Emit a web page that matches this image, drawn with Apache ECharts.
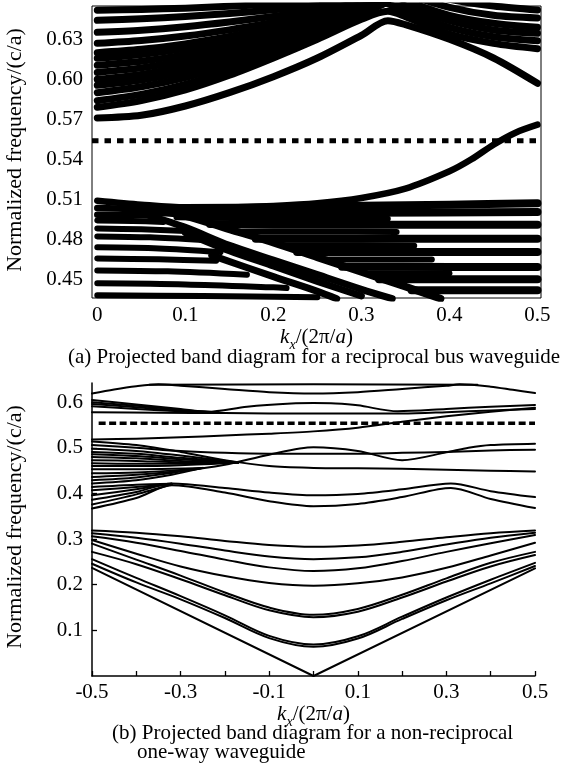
<!DOCTYPE html>
<html><head><meta charset="utf-8">
<script src="https://cdn.jsdelivr.net/npm/echarts@6.0.0/dist/echarts.min.js"></script>
<style>html,body{margin:0;padding:0;background:#fff}#c{width:569px;height:772px}</style>
</head><body><div id="c"></div>
<script>
// ---------- (a) reciprocal bus waveguide ----------
const topXTicks = [0, 0.1, 0.2, 0.3, 0.4, 0.5];
const topYTicks = [0.45, 0.48, 0.51, 0.54, 0.57, 0.60, 0.63];
const topGapLine = 0.554;

const kTopU = [0, 0.05, 0.1, 0.15, 0.2, 0.25, 0.3, 0.33, 0.35, 0.4, 0.45, 0.5];
const topU0 = [0.571, 0.573, 0.580, 0.590, 0.602, 0.616, 0.633, 0.644, 0.641, 0.630, 0.616, 0.597];
const topB1 = [0.579, 0.584, 0.592, 0.603, 0.616, 0.630, 0.645, 0.651, 0.647, 0.634, 0.627, 0.623];

const kTopFan = [0, 0.05, 0.1, 0.15, 0.2, 0.25, 0.3, 0.33];
const topFan = [
  [0.584, 0.5887, 0.5962, 0.6065, 0.6188, 0.6319, 0.6488, 0.658],
  [0.590, 0.5944, 0.6013, 0.6108, 0.6221, 0.6343, 0.6499, 0.658],
  [0.5955, 0.5995, 0.6059, 0.6147, 0.6252, 0.6364, 0.6508, 0.659],
  [0.600, 0.6037, 0.6097, 0.6179, 0.6276, 0.6381, 0.6515, 0.659],
  [0.6052, 0.6086, 0.6141, 0.6216, 0.6305, 0.6401, 0.6524, 0.660],
  [0.6105, 0.6135, 0.6185, 0.6253, 0.6334, 0.6421, 0.6533, 0.660],
  [0.6158, 0.6186, 0.6230, 0.6291, 0.6364, 0.6442, 0.6542, 0.660],
  [0.620, 0.6225, 0.6266, 0.6321, 0.6387, 0.6458, 0.6549, 0.660],
  [0.627, 0.6291, 0.6325, 0.6371, 0.6426, 0.6485, 0.6561, 0.661],
  [0.6353, 0.6369, 0.6395, 0.6430, 0.6472, 0.6517, 0.6575, 0.661],
  [0.6443, 0.6454, 0.6471, 0.6494, 0.6522, 0.6552, 0.6590, 0.662],
  [0.6518, 0.6524, 0.6534, 0.6548, 0.6564, 0.6581, 0.6603, 0.662]
];
const kTopR = [0.3, 0.35, 0.4, 0.45, 0.5];
const topRight = [
  [0.666, 0.651, 0.639, 0.632, 0.629],
  [0.669, 0.655, 0.644, 0.637, 0.6345],
  [0.672, 0.659, 0.648, 0.642, 0.639],
  [0.676, 0.664, 0.654, 0.648, 0.646],
  [0.680, 0.669, 0.660, 0.655, 0.652]
];
const kTopL0 = [0, 0.05, 0.1, 0.15, 0.2, 0.25, 0.3, 0.35, 0.4, 0.425, 0.45, 0.475, 0.5];
const topL0 = [0.509, 0.506, 0.504, 0.504, 0.505, 0.507, 0.511, 0.518, 0.531, 0.540, 0.551, 0.560, 0.566];

const topThick = [
  [[0, 0.5035], [0.04, 0.5025], [0.07, 0.5]],
  [[0, 0.4985], [0.04, 0.4985], [0.07, 0.4975]]
];
const topDiagA = [[0.04, 0.5045], [0.1, 0.4975], [0.15, 0.4875], [0.2, 0.4775], [0.25, 0.4665], [0.3, 0.4555], [0.35, 0.4445], [0.39, 0.4355]];
const topDiagB = [
  [[0.06, 0.4975], [0.1, 0.489], [0.15, 0.4755], [0.2, 0.4645], [0.25, 0.4535], [0.3, 0.4425], [0.335, 0.4355]],
  [[0.1, 0.485], [0.15, 0.4715], [0.2, 0.4600], [0.25, 0.4485], [0.3, 0.4375]],
  [[0.13, 0.4680], [0.2, 0.4520], [0.25, 0.4410], [0.272, 0.4355]]
];
const topLeftStripes = [
  [[0, 0.4942], [0.04, 0.4938], [0.075, 0.493]],
  [[0, 0.4882], [0.05, 0.4875], [0.1, 0.4862]],
  [[0, 0.4822], [0.06, 0.4815], [0.12, 0.4795]],
  [[0, 0.474], [0.07, 0.4732], [0.14, 0.4705]],
  [[0, 0.4657], [0.07, 0.465], [0.135, 0.4640]],
  [[0, 0.4567], [0.08, 0.456], [0.17, 0.4535]],
  [[0, 0.447], [0.1, 0.4462], [0.2, 0.4440], [0.215, 0.4435]],
  [[0, 0.438], [0.12, 0.4375], [0.25, 0.4365]]
];
const topRightStripes = [
  [[0.1, 0.5035], [0.2, 0.504], [0.3, 0.5052], [0.4, 0.506], [0.5, 0.507]],
  [[0.07, 0.5002], [0.15, 0.4998], [0.3, 0.5], [0.5, 0.5005]],
  [[0.128, 0.4915], [0.2, 0.491], [0.35, 0.491], [0.5, 0.491]],
  [[0.18, 0.4805], [0.3, 0.4805], [0.5, 0.4805]],
  [[0.227, 0.4705], [0.35, 0.4705], [0.5, 0.4705]],
  [[0.278, 0.4595], [0.4, 0.4593], [0.5, 0.4593]],
  [[0.32, 0.45], [0.4, 0.45], [0.5, 0.45]],
  [[0.357, 0.4418], [0.45, 0.4418], [0.5, 0.4418]]
];
const topMidStripes = [
  [[0.09, 0.4965], [0.2, 0.4958], [0.33, 0.4955]],
  [[0.16, 0.4857], [0.26, 0.4857], [0.34, 0.4855]],
  [[0.21, 0.4755], [0.3, 0.4755], [0.36, 0.4752]],
  [[0.26, 0.4648], [0.34, 0.4648], [0.38, 0.4648]],
  [[0.31, 0.4545], [0.4, 0.4545]]
];

// ---------- (b) non-reciprocal one-way waveguide ----------
const botXTicks = [-0.5, -0.4, -0.3, -0.2, -0.1, 0, 0.1, 0.2, 0.3, 0.4, 0.5];
const botXLabels = [-0.5, -0.3, -0.1, 0.1, 0.3, 0.5];
const botYTicks = [0.1, 0.2, 0.3, 0.4, 0.5, 0.6];
const botGapLine = 0.554;

const kBot = [-0.5, -0.4, -0.3, -0.2, -0.1, 0, 0.1, 0.2, 0.3, 0.4, 0.5];
const botLower = [
  [0.319, 0.314, 0.306, 0.296, 0.287, 0.283, 0.286, 0.294, 0.304, 0.313, 0.319],
  [0.313, 0.303, 0.290, 0.275, 0.262, 0.256, 0.260, 0.272, 0.288, 0.303, 0.314],
  [0.306, 0.292, 0.274, 0.255, 0.238, 0.230, 0.236, 0.252, 0.272, 0.291, 0.309],
  [0.298, 0.268, 0.240, 0.219, 0.204, 0.198, 0.203, 0.216, 0.237, 0.264, 0.292],
  [0.290, 0.255, 0.220, 0.183, 0.150, 0.134, 0.147, 0.178, 0.214, 0.248, 0.272],
  [0.272, 0.245, 0.212, 0.177, 0.144, 0.129, 0.141, 0.172, 0.207, 0.240, 0.265],
  [0.256, 0.215, 0.175, 0.133, 0.088, 0.069, 0.087, 0.130, 0.172, 0.211, 0.248],
  [0.246, 0.205, 0.168, 0.127, 0.083, 0.064, 0.082, 0.125, 0.166, 0.203, 0.241]
];
const botV = [[-0.5, 0.237], [0, 0.0], [0.5, 0.236]];

const botUpper = [
  [[-0.37, 0.638], [0, 0.639], [0.37, 0.638]],
  [[-0.5, 0.619], [-0.45, 0.628], [-0.4, 0.635], [-0.35, 0.639], [-0.3, 0.636], [-0.2, 0.629], [-0.1, 0.622], [0, 0.619], [0.1, 0.622], [0.2, 0.629], [0.3, 0.636], [0.33, 0.639], [0.4, 0.634], [0.45, 0.627], [0.5, 0.620]],
  [[-0.5, 0.605], [-0.4, 0.595], [-0.3, 0.585], [-0.24, 0.579], [-0.15, 0.590], [-0.05, 0.597], [0, 0.598], [0.05, 0.597], [0.1, 0.593], [0.19, 0.580], [0.3, 0.585], [0.4, 0.590], [0.5, 0.594]],
  [[-0.5, 0.600], [-0.4, 0.592], [-0.3, 0.583], [-0.22, 0.578]],
  [[-0.5, 0.596], [-0.4, 0.589], [-0.3, 0.581], [-0.22, 0.578]],
  [[-0.5, 0.591], [-0.4, 0.585], [-0.3, 0.580], [-0.22, 0.577]],
  [[-0.5, 0.578], [-0.35, 0.577], [-0.2, 0.576], [0, 0.575], [0.2, 0.575], [0.3, 0.578], [0.4, 0.582], [0.5, 0.585]],
  [[-0.5, 0.518], [-0.4, 0.520], [-0.3, 0.523], [-0.2, 0.527], [-0.1, 0.531], [0, 0.536], [0.1, 0.544], [0.2, 0.557], [0.3, 0.569], [0.4, 0.579], [0.5, 0.588]]
];
const botMid = [
  [[-0.5, 0.436], [-0.4, 0.441], [-0.3, 0.449], [-0.2, 0.463], [-0.1, 0.485], [0, 0.501], [0.1, 0.493], [0.2, 0.473], [0.3, 0.490], [0.35, 0.500], [0.4, 0.506], [0.5, 0.509]],
  [[-0.5, 0.506], [-0.4, 0.500], [-0.3, 0.493], [-0.2, 0.489], [-0.1, 0.487], [0, 0.487], [0.1, 0.487], [0.2, 0.489], [0.3, 0.491], [0.4, 0.494], [0.5, 0.496]],
  [[-0.5, 0.514], [-0.4, 0.506], [-0.3, 0.491], [-0.2, 0.473], [-0.1, 0.460], [0, 0.456], [0.1, 0.455], [0.2, 0.454], [0.3, 0.452], [0.4, 0.450], [0.5, 0.448]],
  [[-0.5, 0.386], [-0.4, 0.403], [-0.32, 0.422], [-0.2, 0.412], [-0.1, 0.402], [0, 0.396], [0.1, 0.399], [0.2, 0.409], [0.31, 0.422], [0.4, 0.405], [0.5, 0.392]],
  [[-0.5, 0.367], [-0.4, 0.390], [-0.32, 0.418], [-0.2, 0.402], [-0.1, 0.383], [0, 0.372], [0.1, 0.377], [0.2, 0.392], [0.31, 0.412], [0.4, 0.388], [0.5, 0.368]]
];
const botFanUp = [
  [[-0.5, 0.498], [-0.4, 0.493], [-0.3, 0.483], [-0.17, 0.468]],
  [[-0.5, 0.491], [-0.4, 0.487], [-0.3, 0.478], [-0.17, 0.468]],
  [[-0.5, 0.486], [-0.4, 0.482], [-0.3, 0.475], [-0.17, 0.468]],
  [[-0.5, 0.480], [-0.4, 0.477], [-0.3, 0.471], [-0.17, 0.468]],
  [[-0.5, 0.473], [-0.4, 0.471], [-0.3, 0.468], [-0.17, 0.468]],
  [[-0.5, 0.466], [-0.4, 0.465], [-0.3, 0.465], [-0.17, 0.468]],
  [[-0.5, 0.460], [-0.4, 0.460], [-0.3, 0.462], [-0.17, 0.468]]
];
const botFanLow = [
  [[-0.5, 0.453], [-0.4, 0.453], [-0.32, 0.454], [-0.25, 0.456]],
  [[-0.5, 0.444], [-0.4, 0.446], [-0.32, 0.450], [-0.25, 0.456]],
  [[-0.5, 0.429], [-0.4, 0.435], [-0.32, 0.445], [-0.25, 0.456]],
  [[-0.5, 0.422], [-0.4, 0.429], [-0.32, 0.441], [-0.25, 0.456]],
  [[-0.5, 0.414], [-0.4, 0.419], [-0.32, 0.421]],
  [[-0.5, 0.407], [-0.4, 0.414], [-0.32, 0.421]],
  [[-0.5, 0.396], [-0.4, 0.409], [-0.32, 0.421]],
  [[-0.5, 0.376], [-0.4, 0.398], [-0.32, 0.420]]
];

// ---------- build ----------
const FONT = '"Liberation Serif","Times New Roman",serif';
const FS = 21;
const series = [];
function zip(ks, vs) { return ks.map((k, i) => [k, vs[i]]); }
function addLine(pts, g, w, smooth, type) {
  series.push({
    type: 'line', xAxisIndex: g, yAxisIndex: g, data: pts,
    symbol: 'none', showSymbol: false, smooth: smooth, silent: true,
    emphasis: { disabled: true }, animation: false, clip: true,
    lineStyle: { color: '#000', width: w, type: type || 'solid', cap: type ? 'butt' : 'round', join: 'round' }
  });
}
// top panel
addLine(zip(kTopU, topU0), 0, 7, 0.3);
addLine(zip(kTopU, topB1), 0, 7, 0.3);
topFan.forEach(v => addLine(zip(kTopFan, v), 0, 7, 0.3));
topRight.forEach(v => addLine(zip(kTopR, v), 0, 7, 0.3));
addLine(zip(kTopL0, topL0), 0, 6.5, 0.3);
topThick.forEach(p => addLine(p, 0, 6.5, 0.3));
addLine(topDiagA, 0, 7.5, 0.3);
topDiagB.forEach(p => addLine(p, 0, 7, 0.3));
topLeftStripes.forEach(p => addLine(p, 0, 6, 0.3));
topRightStripes.forEach(p => addLine(p, 0, 8, 0.3));
topMidStripes.forEach(p => addLine(p, 0, 6, 0.3));
addLine([[-0.006, topGapLine], [0.504, topGapLine]], 0, 5, false, [6.5, 6]);
// bottom panel
botLower.forEach(v => addLine(zip(kBot, v), 1, 2, 0.35));
addLine(botV, 1, 2, false);
botUpper.forEach(p => addLine(p, 1, 2, 0.3));
botMid.forEach(p => addLine(p, 1, 2, 0.3));
botFanUp.forEach(p => addLine(p, 1, 2, 0.3));
botFanLow.forEach(p => addLine(p, 1, 2, 0.3));
addLine([[-0.485, botGapLine], [0.5, botGapLine]], 1, 3.5, false, [7, 3.5]);

const lbl = { color: '#000', fontFamily: FONT, fontSize: FS };
const kxName = '{i|k}{s|x}{n|/(2π/}{i|a}{n|)}';
const kxStyle = {
  color: '#000', fontFamily: FONT, fontSize: FS,
  rich: {
    i: { fontFamily: FONT, fontSize: FS, fontStyle: 'italic', color: '#000', lineHeight: 30, verticalAlign: 'middle' },
    n: { fontFamily: FONT, fontSize: FS, color: '#000', lineHeight: 30, verticalAlign: 'middle' },
    s: { fontFamily: FONT, fontSize: 14, fontStyle: 'italic', color: '#000', lineHeight: 30, verticalAlign: 'bottom' }
  }
};
const fmt1 = v => String(Math.round(v * 10) / 10);

const option = {
  backgroundColor: '#fff',
  animation: false,
  grid: [
    { left: 92, top: 6, width: 449, height: 292, show: true, borderColor: '#000', borderWidth: 1, backgroundColor: 'transparent' },
    { left: 92, top: 383, width: 443, height: 293 }
  ],
  xAxis: [
    { gridIndex: 0, type: 'value', min: -0.006, max: 0.504,
      axisLine: { show: false }, axisTick: { show: false }, splitLine: { show: false },
      axisLabel: Object.assign({ customValues: topXTicks, formatter: fmt1, margin: 7 }, lbl),
      name: kxName, nameLocation: 'middle', nameGap: 19, nameTextStyle: kxStyle },
    { gridIndex: 1, type: 'value', min: -0.5, max: 0.5,
      axisLine: { show: true, onZero: false, lineStyle: { color: '#000', width: 1.5 } },
      axisTick: { show: true, inside: true, length: 5, customValues: botXTicks, lineStyle: { color: '#000', width: 1.3 } },
      splitLine: { show: false },
      axisLabel: Object.assign({ customValues: botXLabels, formatter: fmt1, margin: 6 }, lbl),
      name: kxName, nameLocation: 'middle', nameGap: 20, nameTextStyle: kxStyle }
  ],
  yAxis: [
    { gridIndex: 0, type: 'value', min: 0.436, max: 0.655,
      axisLine: { show: false }, axisTick: { show: false }, splitLine: { show: false },
      axisLabel: Object.assign({ customValues: topYTicks, formatter: v => v.toFixed(2), margin: 9 }, lbl) },
    { gridIndex: 1, type: 'value', min: 0, max: 0.642,
      axisLine: { show: true, onZero: false, lineStyle: { color: '#000', width: 1.5 } },
      axisTick: { show: true, inside: true, length: 5, customValues: botYTicks, lineStyle: { color: '#000', width: 1.3 } },
      splitLine: { show: false },
      axisLabel: Object.assign({ customValues: botYTicks, formatter: v => v.toFixed(1), margin: 9 }, lbl) }
  ],
  graphic: [
    { type: 'text', x: 15, y: 150, rotation: Math.PI / 2,
      style: { text: 'Normalized frequency/(c/a)', fill: '#000', fontFamily: FONT, fontSize: 22, textAlign: 'center', textVerticalAlign: 'middle', align: 'center', verticalAlign: 'middle' } },
    { type: 'text', x: 15, y: 527, rotation: Math.PI / 2,
      style: { text: 'Normalized frequency/(c/a)', fill: '#000', fontFamily: FONT, fontSize: 22, textAlign: 'center', textVerticalAlign: 'middle', align: 'center', verticalAlign: 'middle' } },
    { type: 'text', x: 314, y: 357,
      style: { text: '(a) Projected band diagram for a reciprocal bus waveguide', fill: '#000', fontFamily: FONT, fontSize: FS, textAlign: 'center', textVerticalAlign: 'middle', align: 'center', verticalAlign: 'middle' } },
    { type: 'text', x: 112, y: 733,
      style: { text: '(b) Projected band diagram for a non-reciprocal', fill: '#000', fontFamily: FONT, fontSize: FS, textAlign: 'left', textVerticalAlign: 'middle', align: 'left', verticalAlign: 'middle' } },
    { type: 'text', x: 137, y: 752,
      style: { text: 'one-way waveguide', fill: '#000', fontFamily: FONT, fontSize: FS, textAlign: 'left', textVerticalAlign: 'middle', align: 'left', verticalAlign: 'middle' } }
  ],
  series: series
};
const chart = echarts.init(document.getElementById('c'), null, { renderer: 'canvas' });
chart.setOption(option);
</script></body></html>
